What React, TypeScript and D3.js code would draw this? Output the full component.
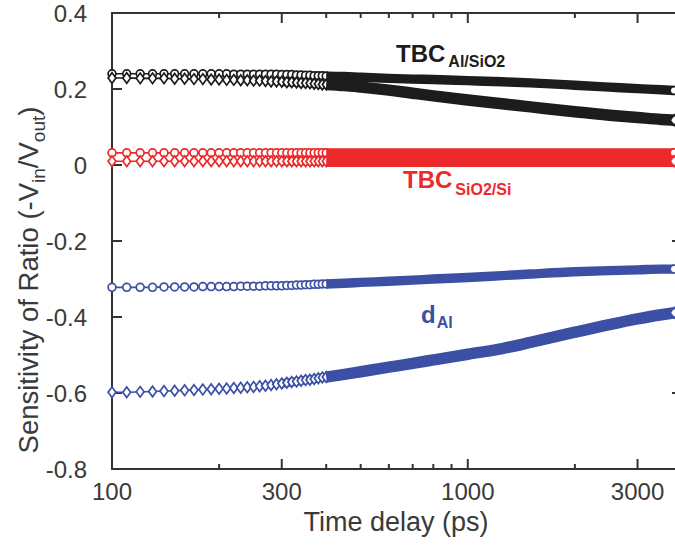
import React from 'react';
import * as d3 from 'd3';

// Time delays (ps): dense sampling where markers are distinct, then sparse read points
const timeDense = [100, 110, 120, 130, 140, 150, 160, 170, 180, 190, 200, 210, 220, 230, 240, 250, 260, 270, 280, 290, 300, 310, 320, 330, 340, 350, 360, 370, 380, 390, 400];
const timeSparse = [450, 500, 600, 700, 800, 1000, 1250, 1500, 2000, 2500, 3000, 3500, 3800];
const times = [...timeDense, ...timeSparse];

// TBC Al/SiO2 (black)
const tbcAlCircle = [0.240, 0.240, 0.240, 0.240, 0.240, 0.240, 0.240, 0.240, 0.240, 0.240, 0.240, 0.240, 0.239, 0.239, 0.239, 0.239, 0.239, 0.239, 0.239, 0.239, 0.238, 0.238, 0.238, 0.237, 0.237, 0.236, 0.236, 0.235, 0.235, 0.235, 0.234,
  0.233, 0.231, 0.228, 0.226, 0.225, 0.222, 0.219, 0.216, 0.210, 0.205, 0.201, 0.198, 0.196];
const tbcAlDiamond = [0.229, 0.229, 0.228, 0.228, 0.228, 0.227, 0.227, 0.226, 0.226, 0.225, 0.225, 0.224, 0.224, 0.223, 0.223, 0.222, 0.222, 0.221, 0.220, 0.220, 0.219, 0.218, 0.218, 0.217, 0.216, 0.216, 0.215, 0.214, 0.213, 0.212, 0.212,
  0.209, 0.205, 0.197, 0.189, 0.182, 0.171, 0.161, 0.153, 0.140, 0.131, 0.125, 0.120, 0.118];

// TBC SiO2/Si (red)
const tbcSiCircle = [0.032, 0.032, 0.032, 0.032, 0.032, 0.032, 0.032, 0.032, 0.032, 0.032, 0.032, 0.032, 0.032, 0.032, 0.032, 0.032, 0.032, 0.032, 0.032, 0.032, 0.032, 0.032, 0.032, 0.032, 0.032, 0.032, 0.032, 0.032, 0.032, 0.032, 0.032,
  0.032, 0.032, 0.032, 0.032, 0.032, 0.032, 0.032, 0.032, 0.032, 0.032, 0.032, 0.032, 0.032];
const tbcSiDiamond = [0.010, 0.010, 0.010, 0.010, 0.010, 0.010, 0.010, 0.010, 0.010, 0.010, 0.010, 0.010, 0.010, 0.010, 0.010, 0.010, 0.010, 0.010, 0.010, 0.010, 0.010, 0.010, 0.010, 0.010, 0.010, 0.010, 0.010, 0.010, 0.010, 0.010, 0.010,
  0.010, 0.010, 0.010, 0.010, 0.010, 0.010, 0.010, 0.010, 0.010, 0.010, 0.010, 0.010, 0.010];

// d Al (blue)
const dAlCircle = [-0.322, -0.322, -0.322, -0.322, -0.321, -0.321, -0.321, -0.321, -0.320, -0.320, -0.320, -0.320, -0.320, -0.319, -0.319, -0.319, -0.319, -0.318, -0.318, -0.318, -0.318, -0.317, -0.317, -0.316, -0.316, -0.315, -0.315, -0.314, -0.314, -0.313, -0.313,
  -0.311, -0.309, -0.306, -0.303, -0.300, -0.296, -0.291, -0.287, -0.281, -0.278, -0.276, -0.274, -0.274];
const dAlDiamond = [-0.598, -0.598, -0.597, -0.596, -0.595, -0.594, -0.593, -0.592, -0.591, -0.590, -0.589, -0.588, -0.587, -0.586, -0.585, -0.584, -0.582, -0.581, -0.579, -0.577, -0.575, -0.573, -0.571, -0.570, -0.568, -0.566, -0.565, -0.563, -0.561, -0.559, -0.558,
  -0.551, -0.544, -0.532, -0.522, -0.513, -0.498, -0.483, -0.467, -0.440, -0.420, -0.405, -0.394, -0.389];

const yTicks = [0.4, 0.2, 0, -0.2, -0.4, -0.6, -0.8];
const yTickLabels = ['0.4', '0.2', '0', '-0.2', '-0.4', '-0.6', '-0.8'];
const xMajorTicks = [100, 300, 1000, 3000];
const xTickLabels = ['100', '300', '1000', '3000'];
const xMinorTicks = [200, 400, 500, 600, 700, 800, 900, 2000];

const BLACK = '#1c1c1c';
const RED = '#ec2a2b';
const BLUE = '#3b50a5';
const AXIS = '#333333';
const TEXT = '#3a3a3a';
const FONT = '"Liberation Sans", Arial, Helvetica, sans-serif';

type Series = { values: number[]; color: string; shape: 'circle' | 'diamond' };
const series: Series[] = [
  { values: tbcAlCircle, color: BLACK, shape: 'circle' },
  { values: tbcAlDiamond, color: BLACK, shape: 'diamond' },
  { values: tbcSiCircle, color: RED, shape: 'circle' },
  { values: tbcSiDiamond, color: RED, shape: 'diamond' },
  { values: dAlCircle, color: BLUE, shape: 'circle' },
  { values: dAlDiamond, color: BLUE, shape: 'diamond' },
];

const W = 675;
const H = 546;
const x = d3.scaleLog().domain([100, 4000]).range([112, 682]);
const y = d3.scaleLinear().domain([-0.8, 0.4]).range([469, 13]);

const BAND_START = 400;
const UNDER_START = 300;

function Marker({ cx, cy, shape, color }: { cx: number; cy: number; shape: string; color: string }) {
  if (shape === 'circle') {
    return <circle cx={cx} cy={cy} r={3.9} fill="#fff" stroke={color} strokeWidth={1.7} />;
  }
  const hw = 3.9, hh = 5.3;
  return (
    <path
      d={`M${cx},${cy - hh}L${cx + hw},${cy}L${cx},${cy + hh}L${cx - hw},${cy}Z`}
      fill="#fff"
      stroke={color}
      strokeWidth={1.7}
    />
  );
}

export default function App() {
  const thin = d3.line<[number, number]>().x(d => x(d[0])).y(d => y(d[1])).curve(d3.curveMonotoneX);
  return (
    <div style={{ position: 'absolute', left: 0, top: 0 }}>
      <svg width={W} height={H} style={{ display: 'block', background: '#fff' }} fontFamily={FONT}>
        {/* box */}
        <rect x={x(100)} y={y(0.4)} width={x(4000) - x(100)} height={y(-0.8) - y(0.4)} fill="none" stroke={AXIS} strokeWidth={2} />
        {/* y ticks, both sides */}
        {yTicks.map(v => (
          <g key={'yt' + v}>
            <line x1={x(100)} x2={x(100) + 10} y1={y(v)} y2={y(v)} stroke={AXIS} strokeWidth={2} />
            <line x1={x(4000)} x2={x(4000) - 10} y1={y(v)} y2={y(v)} stroke={AXIS} strokeWidth={2} />
          </g>
        ))}
        {/* x ticks, bottom and top */}
        {xMajorTicks.map(v => (
          <g key={'xt' + v}>
            <line x1={x(v)} x2={x(v)} y1={y(-0.8)} y2={y(-0.8) - 10} stroke={AXIS} strokeWidth={2} />
            <line x1={x(v)} x2={x(v)} y1={y(0.4)} y2={y(0.4) + 10} stroke={AXIS} strokeWidth={2} />
          </g>
        ))}
        {xMinorTicks.map(v => (
          <g key={'xm' + v}>
            <line x1={x(v)} x2={x(v)} y1={y(-0.8)} y2={y(-0.8) - 5} stroke={AXIS} strokeWidth={2} />
            <line x1={x(v)} x2={x(v)} y1={y(0.4)} y2={y(0.4) + 5} stroke={AXIS} strokeWidth={2} />
          </g>
        ))}
        {/* tick labels */}
        {yTicks.map((v, i) => (
          <text key={'yl' + v} x={87} y={y(v)} dy="0.36em" textAnchor="end" fontSize={24} fill={TEXT}>
            {yTickLabels[i]}
          </text>
        ))}
        {xMajorTicks.map((v, i) => (
          <text key={'xl' + v} x={x(v)} y={500} textAnchor="middle" fontSize={24} fill={TEXT}>
            {xTickLabels[i]}
          </text>
        ))}
        {/* axis titles */}
        <text x={396} y={531} textAnchor="middle" fontSize={27} fill={TEXT}>Time delay (ps)</text>
        <text transform="translate(38,280) rotate(-90)" textAnchor="middle" fontSize={27.5} fill={TEXT}>
          <tspan>Sensitivity of Ratio (-V</tspan>
          <tspan dy={7} fontSize={19}>in</tspan>
          <tspan dy={-7}>/V</tspan>
          <tspan dy={7} fontSize={19}>out</tspan>
          <tspan dy={-7}>)</tspan>
        </text>

        {/* series */}
        {series.map((s, si) => {
          const pts: [number, number][] = times.map((t, i) => [t, s.values[i]]);
          const bandPts = pts.filter(p => p[0] >= BAND_START);
          const underPts = pts.filter(p => p[0] >= UNDER_START);
          const dense = pts.filter(p => p[0] <= BAND_START);
          const last = pts[pts.length - 1];
          const bw = s.shape === 'circle' ? 9.4 : 11.5;
          return (
            <g key={'s' + si}>
              <path d={thin(pts) || ''} fill="none" stroke={s.color} strokeWidth={1.6} />
              <path d={thin(underPts) || ''} fill="none" stroke={s.color} strokeWidth={bw - 3} />
              {dense.map((p, i) => (
                <Marker key={i} cx={x(p[0])} cy={y(p[1])} shape={s.shape} color={s.color} />
              ))}
              <path d={thin(bandPts) || ''} fill="none" stroke={s.color} strokeWidth={bw} />
              <Marker cx={x(last[0])} cy={y(last[1])} shape={s.shape} color={s.color} />
            </g>
          );
        })}

        {/* labels */}
        <text x={396} y={62} fontSize={24} fontWeight="bold" fill={BLACK}>
          TBC<tspan dx={3} dy={5} fontSize={16}>Al/SiO2</tspan>
        </text>
        <text x={403} y={188} fontSize={24} fontWeight="bold" fill={RED}>
          TBC<tspan dx={3} dy={7} fontSize={16}>SiO2/Si</tspan>
        </text>
        <text x={421} y={323} fontSize={24} fontWeight="bold" fill={BLUE}>
          d<tspan dx={1} dy={5} fontSize={16}>Al</tspan>
        </text>
      </svg>
    </div>
  );
}
